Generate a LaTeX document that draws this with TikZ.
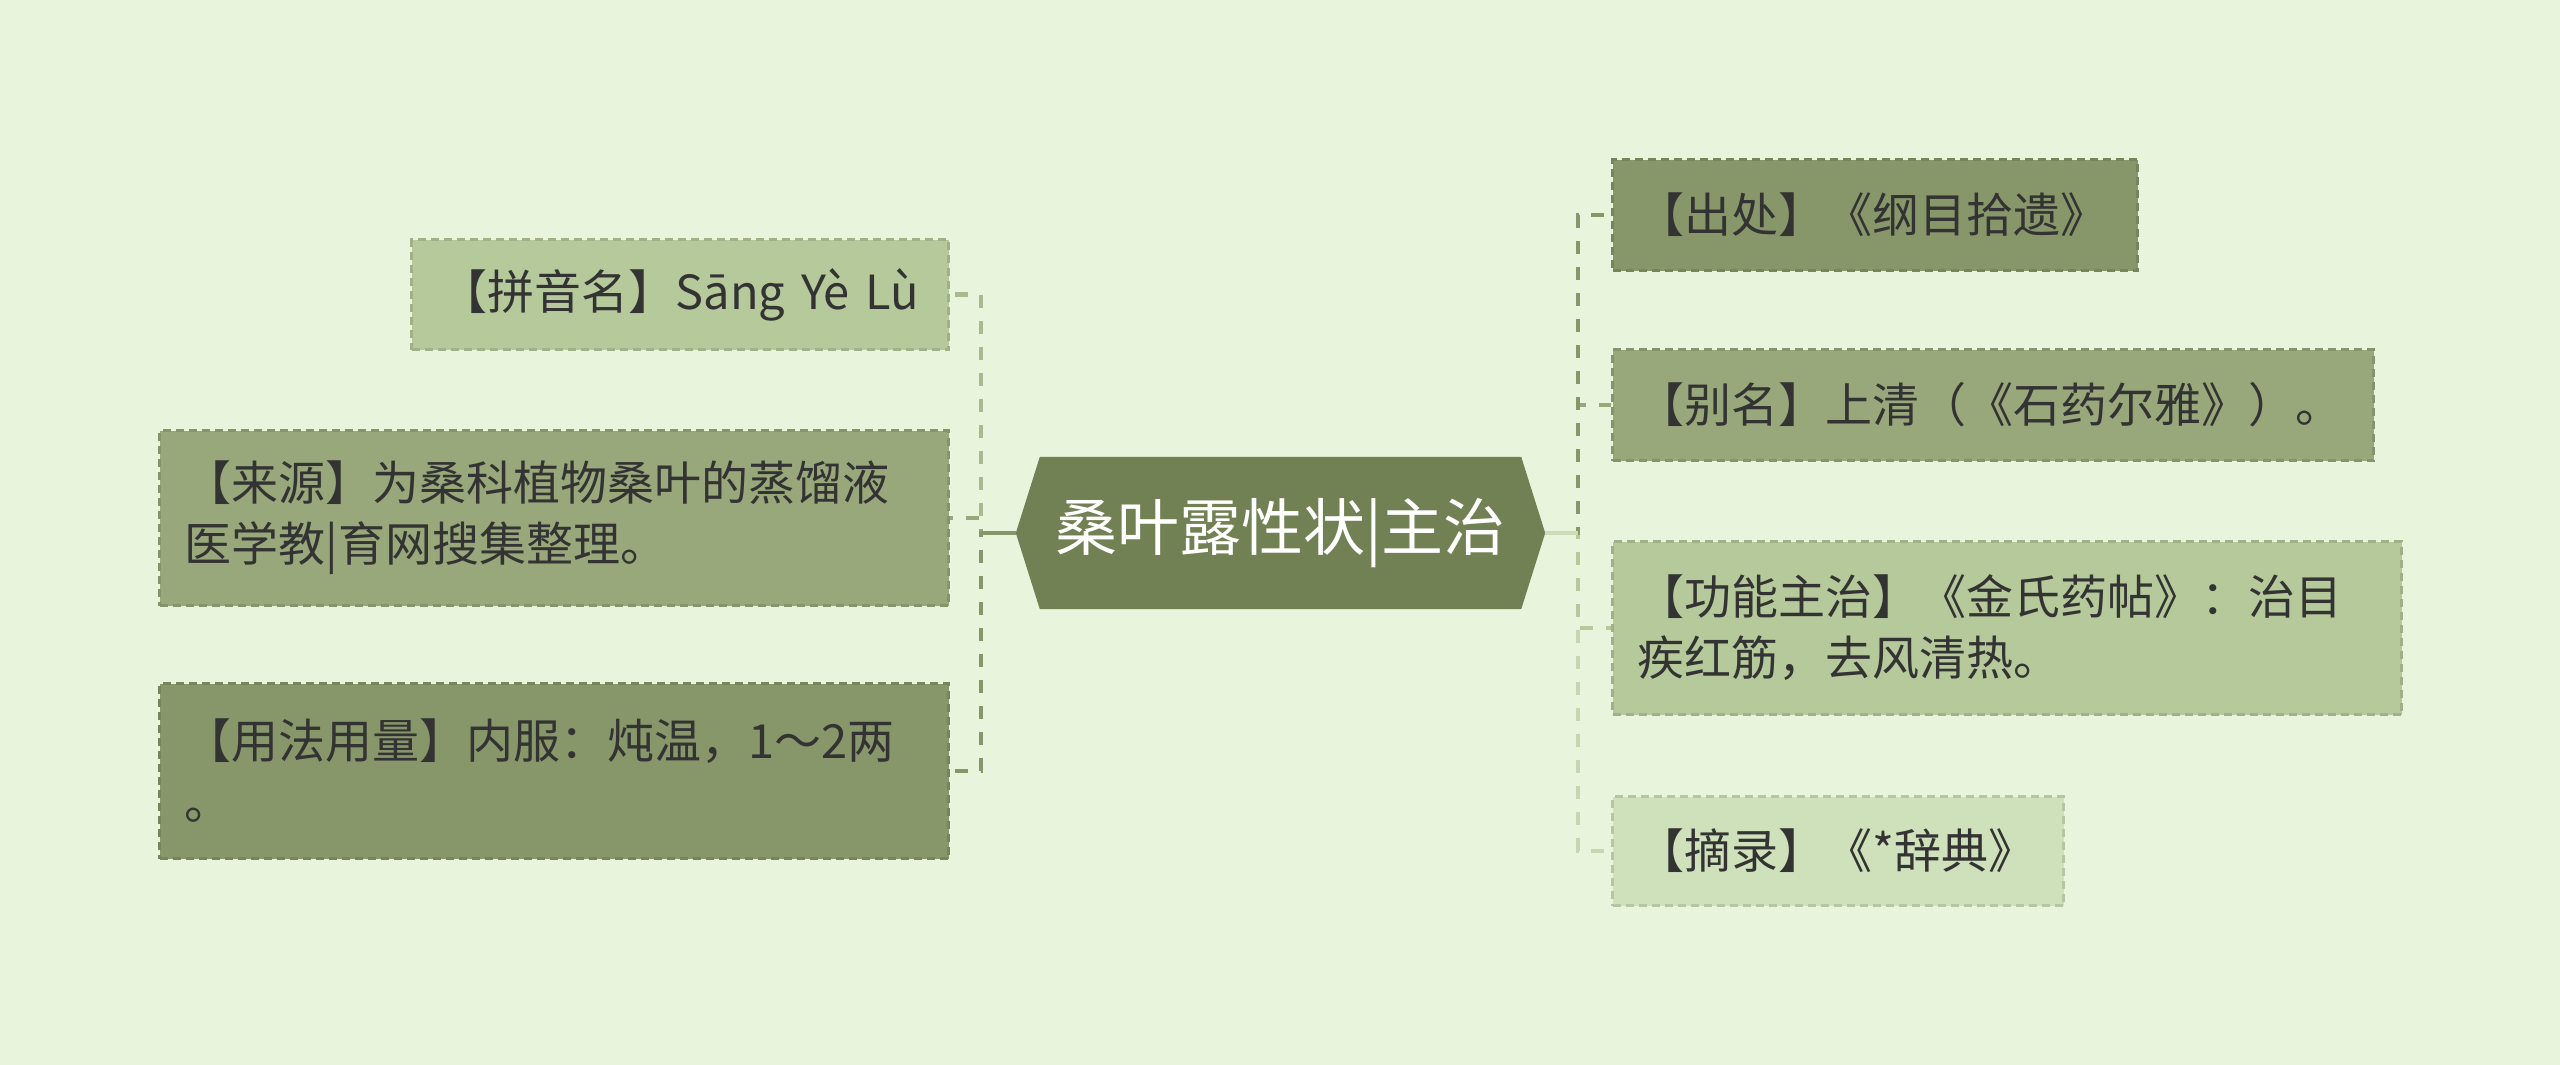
\documentclass[tikz,border=0pt]{standalone}
\usepackage{fontspec}
\setmainfont{Noto Sans CJK SC}
\usetikzlibrary{backgrounds,calc}
\definecolor{bgc}{HTML}{E8F5DC}
\definecolor{cdark}{HTML}{87976A}
\definecolor{cmed}{HTML}{98A87B}
\definecolor{clight}{HTML}{B5C99B}
\definecolor{clightest}{HTML}{CFE1BB}
\definecolor{chub}{HTML}{728153}
\definecolor{txt}{HTML}{333333}
\begin{document}
\begin{tikzpicture}[x=1pt,y=-1pt,
  box/.style={rectangle, anchor=north west, inner xsep=25pt, inner ysep=0pt,
    font=\fontsize{47}{61}\selectfont, text=txt, align=left,
    line width=3pt, dash pattern=on 8pt off 5pt,
    preaction={draw=bgc, solid, line width=3pt}},
  conn/.style={line width=4.5pt, dash pattern=on 13pt off 13pt},
  stub/.style={line width=4.5pt}
]
\begin{scope}[on background layer]
\fill[bgc] (0,0) rectangle (2560,1065);
\end{scope}
\useasboundingbox (0,0) rectangle (2560,1065);

% hub
\node[inner sep=0pt, minimum width=529pt, minimum height=152pt, text=white,
  font=\fontsize{62}{70}\selectfont] (hub) at (1280.5,533) {桑叶露性状|主治};
\begin{scope}[on background layer]
\fill[chub] (hub.west) -- ($(hub.north west)+(24,0)$) -- ($(hub.north east)+(-24,0)$)
  -- (hub.east) -- ($(hub.south east)+(-24,0)$) -- ($(hub.south west)+(24,0)$) -- cycle;
\end{scope}

% left boxes
\node[box, fill=clight, draw=clight!88!black, align=center, text width=487pt, minimum height=110pt]
  (pinyin) at (410,238) {【拼音名】Sāng Yè Lù};
\node[box, fill=cmed, draw=cmed!88!black, text width=739pt, minimum height=175pt]
  (source) at (158,429) {【来源】为桑科植物桑叶的蒸馏液\\医学教|育网搜集整理。};
\node[box, fill=cdark, draw=cdark!88!black, text width=739pt, minimum height=175pt]
  (usage) at (158,682) {【用法用量】内服：炖温，1～2两\\。};

% right boxes
\node[box, fill=cdark, draw=cdark!88!black, text width=475pt, minimum height=111pt]
  (chuchu) at (1611,158) {【出处】《纲目拾遗》};
\node[box, fill=cmed, draw=cmed!88!black, text width=711pt, minimum height=111pt]
  (bieming) at (1611,348) {【别名】上清（《石药尔雅》）。};
\node[box, fill=clight, draw=clight!88!black, text width=739pt, minimum height=173pt]
  (gongneng) at (1611,540) {【功能主治】《金氏药帖》：治目\\疾红筋，去风清热。};
\node[box, fill=clightest, draw=clightest!88!black, text width=401pt, minimum height=109pt]
  (zhailu) at (1611,795) {【摘录】《*辞典》};

\coordinate (lx) at (981,533);
\coordinate (rx) at (1578,533);

% left connectors
\draw[conn, draw=clight!93!black] (hub.west) -- (lx) |- (pinyin.east);
\draw[conn, draw=cmed] (hub.west) -- (lx) |- (source.east);
\draw[conn, draw=cdark] (hub.west) -- (lx) |- (usage.east);
\draw[stub, draw=cdark] (hub.west) -- (lx);

% right connectors
\draw[conn, draw=clightest!95!black] (hub.east) -- (rx) |- (zhailu.west);
\draw[conn, draw=clight] (hub.east) -- (rx) |- (gongneng.west);
\draw[conn, draw=cmed] (hub.east) -- (rx) |- (bieming.west);
\draw[conn, draw=cdark] (hub.east) -- (rx) |- (chuchu.west);
\draw[stub, draw=clightest!85!clight] (hub.east) -- (rx);
\end{tikzpicture}
\end{document}
